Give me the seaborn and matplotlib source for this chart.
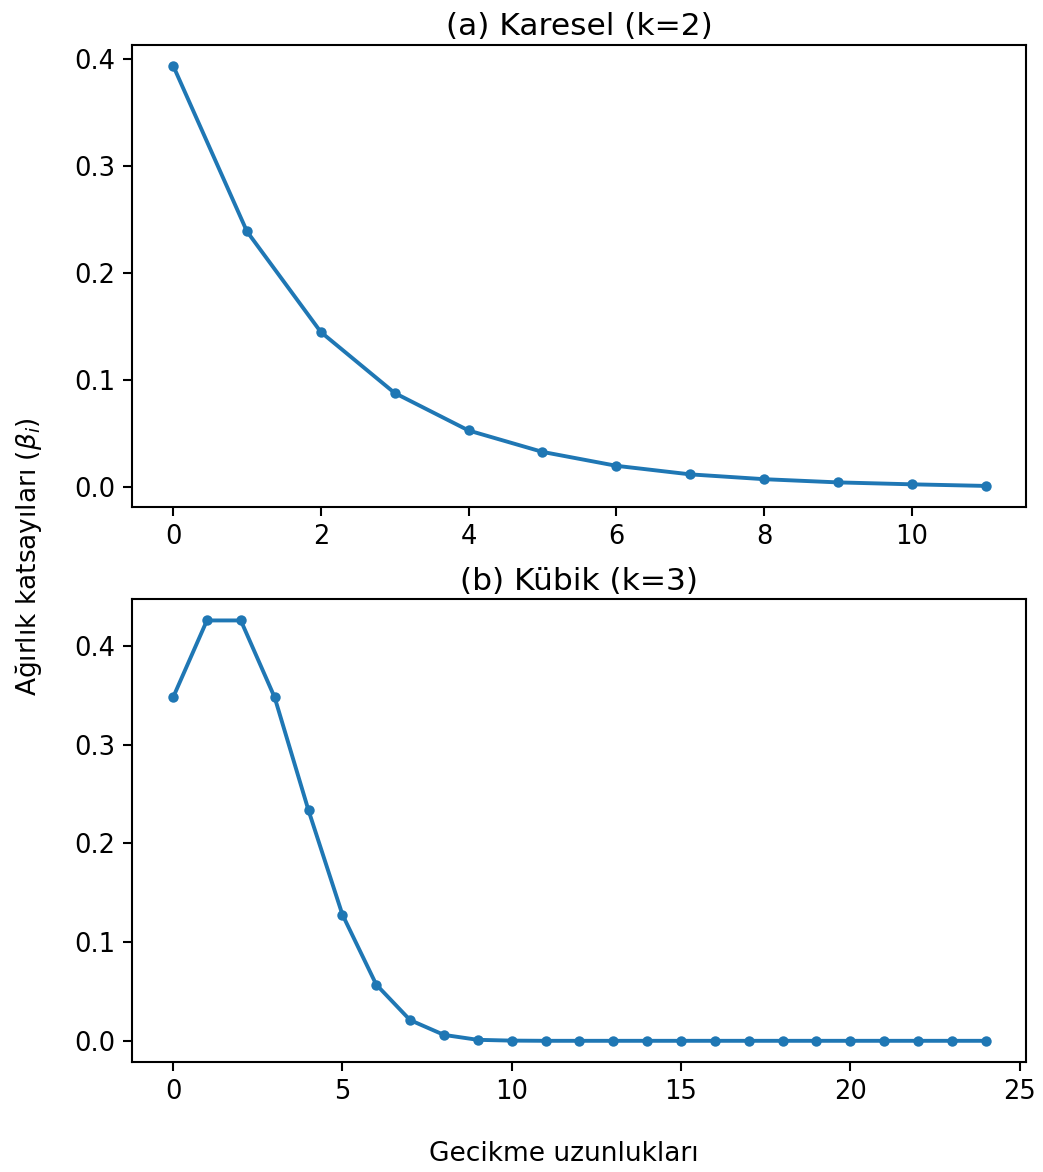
import numpy as np
import pandas as pd
import matplotlib
matplotlib.use("Agg")
import matplotlib.pyplot as plt
import seaborn as sns

# (a) quadratic weights, lags 0..11
lags_a = list(range(12))
beta_a = [0.394, 0.239, 0.145, 0.088, 0.053, 0.033, 0.020, 0.012, 0.0075, 0.0045, 0.0027, 0.0012]

# (b) cubic weights, lags 0..24
lags_b = list(range(25))
beta_b = [0.348, 0.426, 0.426, 0.348, 0.2335, 0.128, 0.057, 0.021, 0.006, 0.001,
          0.0002, 0.0, 0.0, 0.0, 0.0, 0.0, 0.0, 0.0, 0.0, 0.0, 0.0, 0.0, 0.0, 0.0, 0.0]

titles = ['(a) Karesel (k=2)', '(b) Kübik (k=3)']

plt.rcParams['font.family'] = ['DejaVu Sans']
plt.rcParams['axes.linewidth'] = 1.5

fig, axes = plt.subplots(2, 1, figsize=(10.43, 11.72), dpi=100)
fig.subplots_adjust(left=0.127, right=0.984, top=0.962, bottom=0.094, hspace=0.2)

data = [(lags_a, beta_a), (lags_b, beta_b)]
for ax, (x, y), t in zip(axes, data, titles):
    df = pd.DataFrame({'lag': x, 'beta': y})
    sns.lineplot(data=df, x='lag', y='beta', marker='o', color='#1f77b4',
                 linewidth=2.8, markersize=7.5, markeredgewidth=0, ax=ax)
    ax.set_title(t, fontsize=22.5, pad=7)
    ax.set_xlabel('')
    ax.set_ylabel('')
    ax.tick_params(labelsize=18.5, length=6.5, width=1.5, pad=6)

axes[0].set_xticks([0, 2, 4, 6, 8, 10])
axes[0].set_yticks([0.0, 0.1, 0.2, 0.3, 0.4])
axes[1].set_xticks([0, 5, 10, 15, 20, 25])
axes[1].set_yticks([0.0, 0.1, 0.2, 0.3, 0.4])
axes[1].set_xlim(-1.2, 25.2)

# shared axis labels
fig.text(0.012, 0.525, r'Ağırlık katsayıları ($\beta_i$)', fontsize=19,
         rotation=90, ha='left', va='center')
fig.text(0.541, 0.004, 'Gecikme uzunlukları', fontsize=19, ha='center', va='bottom')

plt.savefig('out.png', dpi=100)
